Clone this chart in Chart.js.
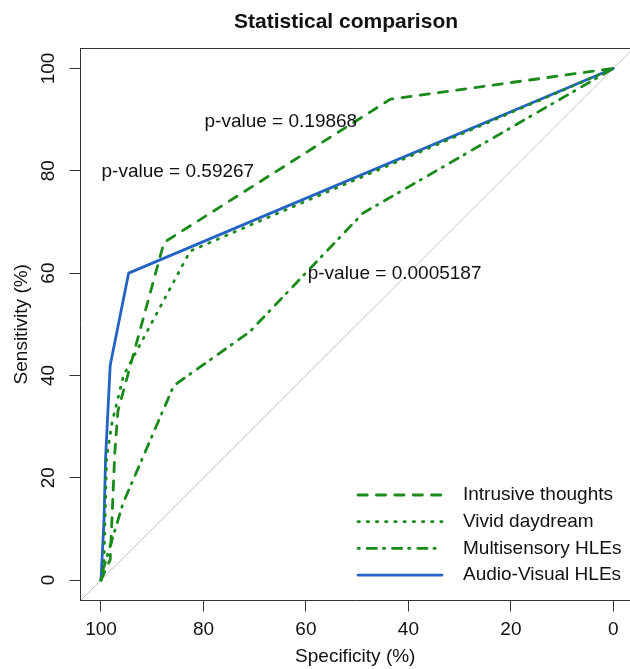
<!DOCTYPE html>
<html>
<head>
<meta charset="utf-8">
<script src="https://cdn.jsdelivr.net/npm/chart.js@4.4.1/dist/chart.umd.min.js"></script>
<style>
  html, body { margin: 0; padding: 0; background: #fff; }
  #wrap { width: 630px; height: 669px; }
</style>
</head>
<body>
<div id="wrap"><canvas id="rocChart" width="630" height="669"></canvas></div>
<script>
// ROC points: specificity (%) and sensitivity (%)
const intrusiveSpec = [100, 98.2, 97.3, 96.7, 87.7, 43.5, 0];
const intrusiveSens = [0, 4, 25, 33, 66, 94, 100];

const vividSpec = [100, 99.4, 98.9, 97.8, 95.6, 82.6, 0];
const vividSens = [0, 4, 24, 31, 40, 64.3, 100];

const multiSpec = [100, 99.6, 95.7, 85.8, 71, 48.9, 0];
const multiSens = [0, 2, 15, 38, 48.5, 71.7, 100];

const audioSpec = [100, 99.4, 99.1, 98.2, 94.6, 0];
const audioSens = [0, 12, 24, 42, 60, 100];

const seriesLabels = ['Intrusive thoughts', 'Vivid daydream', 'Multisensory HLEs', 'Audio-Visual HLEs'];

// chance line
const diagSpec = [104, -4];
const diagSens = [-4, 104];

const specTicks = [100, 80, 60, 40, 20, 0];
const sensTicks = [0, 20, 40, 60, 80, 100];

// p-value annotations (centre of text, in axis units)
const pvalTexts = ['p-value = 0.19868', 'p-value = 0.59267', 'p-value = 0.0005187'];
const pvalSpec = [64.9, 85, 42.7];
const pvalSens = [89.6, 79.8, 59.8];

const FONT = '"Liberation Sans", Arial, Helvetica, sans-serif';
const GREEN = '#1a8a1a';
const BLUE = '#2263c4';
const U = 2.3; // dash unit

function toPoints(xs, ys) {
    return xs.map((x, i) => ({ x: x, y: ys[i] }));
}

function lineSet(label, xs, ys, color, dash) {
    return {
        label: label,
        data: toPoints(xs, ys),
        showLine: true,
        borderColor: color,
        backgroundColor: color,
        borderWidth: 2.8,
        borderDash: dash,
        borderCapStyle: 'round',
        borderJoinStyle: 'round',
        pointRadius: 0,
        tension: 0,
        fill: false
    };
}

// box top edge, rotated y labels, title, legend, p-values
const extrasPlugin = {
    id: 'extras',
    afterDraw(chart) {
        const ctx = chart.ctx;
        const area = chart.chartArea;
        const xScale = chart.scales.x;
        const yScale = chart.scales.y;

        ctx.save();
        ctx.strokeStyle = '#333';
        ctx.lineWidth = 1;
        ctx.beginPath();
        ctx.moveTo(area.left, area.top + 0.5);
        ctx.lineTo(area.right, area.top + 0.5);
        ctx.stroke();

        ctx.fillStyle = '#111';
        ctx.font = '19px ' + FONT;
        ctx.textAlign = 'center';
        ctx.textBaseline = 'middle';
        sensTicks.forEach(v => {
            ctx.save();
            ctx.translate(49, yScale.getPixelForValue(v));
            ctx.rotate(-Math.PI / 2);
            ctx.fillText(String(v), 0, 0);
            ctx.restore();
        });

        pvalTexts.forEach((t, i) => {
            ctx.fillText(t, xScale.getPixelForValue(pvalSpec[i]), yScale.getPixelForValue(pvalSens[i]));
        });

        ctx.font = 'bold 21px ' + FONT;
        ctx.fillText('Statistical comparison', 346, 22);

        // legend
        ctx.font = '19px ' + FONT;
        ctx.textAlign = 'left';
        for (let i = 0; i < seriesLabels.length; i++) {
            const ds = chart.data.datasets[i];
            const y = 495 + i * 26.7;
            ctx.save();
            ctx.strokeStyle = ds.borderColor;
            ctx.lineWidth = ds.borderWidth;
            ctx.lineCap = 'round';
            ctx.setLineDash(ds.borderDash);
            ctx.beginPath();
            ctx.moveTo(358, y);
            ctx.lineTo(442, y);
            ctx.stroke();
            ctx.restore();
            ctx.fillText(ds.label, 463, y);
        }
        ctx.restore();
    }
};

const ctx = document.getElementById('rocChart').getContext('2d');

new Chart(ctx, {
    type: 'scatter',
    data: {
        datasets: [
            lineSet(seriesLabels[0], intrusiveSpec, intrusiveSens, GREEN, [4 * U, 4 * U]),
            lineSet(seriesLabels[1], vividSpec, vividSens, GREEN, [U * 0.6, 3.4 * U]),
            lineSet(seriesLabels[2], multiSpec, multiSens, GREEN, [U * 0.6, 3.4 * U, 4 * U, 3 * U]),
            lineSet(seriesLabels[3], audioSpec, audioSens, BLUE, []),
            {
                label: 'chance',
                data: toPoints(diagSpec, diagSens),
                showLine: true,
                borderColor: '#c4c4c4',
                borderWidth: 1,
                pointRadius: 0,
                fill: false
            }
        ]
    },
    options: {
        responsive: false,
        animation: false,
        devicePixelRatio: 1,
        layout: { padding: { top: 48, right: 0, bottom: 0, left: 0 } },
        plugins: {
            legend: { display: false },
            tooltip: { enabled: false },
            title: { display: false }
        },
        scales: {
            x: {
                type: 'linear',
                reverse: true,
                min: -3.25,
                max: 104,
                afterFit: scale => { scale.height = 68.5; },
                afterBuildTicks: scale => { scale.ticks = specTicks.map(v => ({ value: v })); },
                ticks: {
                    color: '#111',
                    font: { family: FONT, size: 19 },
                    padding: 7,
                    maxRotation: 0,
                    autoSkip: false
                },
                grid: {
                    drawOnChartArea: false,
                    drawTicks: true,
                    tickLength: 11,
                    color: '#333'
                },
                border: { color: '#333', width: 1 },
                title: {
                    display: true,
                    text: 'Specificity (%)',
                    color: '#111',
                    font: { family: FONT, size: 19 },
                    padding: { top: 0, bottom: 0.6 }
                }
            },
            y: {
                type: 'linear',
                min: -4,
                max: 104,
                afterFit: scale => { scale.width = 80.5; },
                afterBuildTicks: scale => { scale.ticks = sensTicks.map(v => ({ value: v })); },
                ticks: { display: false },
                grid: {
                    drawOnChartArea: false,
                    drawTicks: true,
                    tickLength: 11,
                    color: '#333'
                },
                border: { color: '#333', width: 1 },
                title: {
                    display: true,
                    text: 'Sensitivity (%)',
                    color: '#111',
                    font: { family: FONT, size: 19 },
                    padding: { top: 10.6, bottom: 0 }
                }
            }
        }
    },
    plugins: [extrasPlugin]
});
</script>
</body>
</html>
